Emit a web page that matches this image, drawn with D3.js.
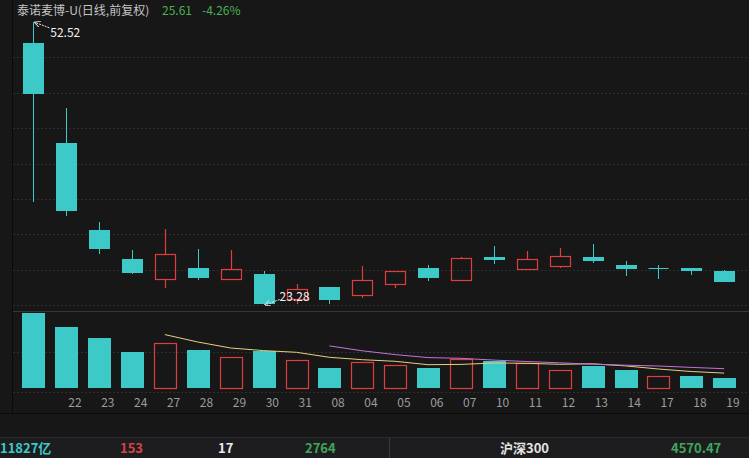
<!DOCTYPE html>
<html><head><meta charset="utf-8">
<script src="https://cdn.jsdelivr.net/npm/d3@7/dist/d3.min.js"></script>
<style>
html,body{margin:0;padding:0;background:#171717;overflow:hidden}
svg{display:block}
</style></head>
<body>
<svg id="c" width="749" height="458"></svg>
<script>
// ---- data ----
const dateLabels = ["", "22","23","24","27","28","29","30","31","08","04","05","06","07","10","11","12","13","14","17","18","19"];
const opens  = [50.31,39.94,30.95,27.95,25.91,27.01,25.91,26.39,23.80,25.04,24.25,25.39,27.01,25.84,28.16,26.91,27.22,28.23,27.33,27.04,27.01,26.70];
const highs  = [52.52,43.57,31.82,28.95,31.13,28.98,28.91,26.70,25.36,25.06,27.22,26.72,27.33,28.23,29.33,28.81,29.09,29.58,27.81,27.33,27.03,26.81];
const lows   = [33.89,32.44,28.50,26.45,25.01,25.80,25.80,23.28,23.35,23.30,23.98,25.01,25.70,25.84,27.43,26.89,27.09,27.56,26.22,25.95,26.29,25.60];
const closes = [45.05,32.92,28.98,26.50,28.47,25.98,26.98,23.30,24.84,23.70,25.84,26.70,25.98,28.12,27.84,27.95,28.33,27.74,26.91,27.04,26.75,25.61];
const volumes = [75,61,50,36,45,38,31,37,27.7,20,26,23,20,29,27,24.7,18,22.3,18.3,11.7,12,10];
const volMA5  = [null,null,null,null,53.4,46,40,37.4,35.7,30.7,28.3,26.7,23.3,23.6,25,24.7,23.7,24.2,22.1,19,16.5,14.9];
const volMA10 = [null,null,null,null,null,null,null,null,null,42.1,37.2,33.4,30.4,29.7,27.9,26.5,25.2,23.8,22.8,22,20.6,19.3];
const titleText = "泰诺麦博-U(日线,前复权)";
const lastPrice = "25.61", lastChange = "-4.26%";
const maxLabel = "52.52", minLabel = "23.28";
const statusTexts = ["11827亿","153","17","2764","沪深300","4570.47"];

// ---- style ----
const BG="#171717", CYAN="#3ec9c9", RED="#e03e3e", GRID="#2e2e2e";
const FONT='"Noto Sans CJK SC","Noto Sans",sans-serif';
const svg = d3.select("#c");
svg.append("rect").attr("width",749).attr("height",458).attr("fill",BG);

const n = opens.length;
const x = d3.scaleBand().domain(d3.range(n)).range([16.85, 740.65]);
const cx = i => x(i) + x.bandwidth()/2;
const yP = d3.scaleLinear().domain([23.28, 52.52]).range([304.5, 21.8]);
const yV = d3.scaleLinear().domain([0, d3.max(volumes)]).range([388, 313]);
const px = v => Math.round(v) + 0.5;

// grid (price pane split in 8)
const gridG = svg.append("g");
for (let k=1;k<=8;k++){
  const gy = Math.round(22 + k*35.4)+0.5;
  gridG.append("line").attr("x1",13).attr("x2",749).attr("y1",gy).attr("y2",gy)
    .attr("stroke",GRID).attr("stroke-dasharray","2,2");
}
[352.5, 392.5].forEach(gy=>{
  gridG.append("line").attr("x1",13).attr("x2",749).attr("y1",gy).attr("y2",gy)
    .attr("stroke",GRID).attr("stroke-dasharray","2,2");
});
// separators
svg.append("line").attr("x1",13).attr("x2",749).attr("y1",311.5).attr("y2",311.5).attr("stroke","#363636");
svg.append("line").attr("x1",0).attr("x2",749).attr("y1",413.5).attr("y2",413.5).attr("stroke","#0b0b0b");
svg.append("line").attr("x1",12.5).attr("x2",12.5).attr("y1",0).attr("y2",413).attr("stroke","#0b0b0b");

// candles
const cg = svg.append("g");
const BW = 20;
for (let i=0;i<n;i++){
  const o=opens[i], c=closes[i], h=highs[i], l=lows[i];
  const up = c>o;
  const col = up?RED:CYAN;
  const xc = Math.round(cx(i))+0.5;
  if (up){
    const top = px(yP(c)), bot = px(yP(o));
    cg.append("line").attr("x1",xc).attr("x2",xc).attr("y1",Math.round(yP(h))).attr("y2",top).attr("stroke",col).attr("stroke-width",1.2);
    cg.append("line").attr("x1",xc).attr("x2",xc).attr("y1",bot).attr("y2",Math.round(yP(l))).attr("stroke",col).attr("stroke-width",1.2);
    cg.append("rect").attr("x",xc-BW/2).attr("y",top).attr("width",BW).attr("height",Math.max(1,bot-top))
      .attr("fill","none").attr("stroke",col).attr("stroke-width",1.2);
  } else {
    const top = Math.round(yP(Math.max(o,c))), bot = Math.round(yP(Math.min(o,c)));
    cg.append("line").attr("x1",xc).attr("x2",xc).attr("y1",Math.round(yP(h))).attr("y2",Math.round(yP(l))).attr("stroke",col);
    if (bot-top < 1.5){
      cg.append("line").attr("x1",xc-BW/2).attr("x2",xc+BW/2).attr("y1",top+0.5).attr("y2",top+0.5).attr("stroke",col);
    } else {
      cg.append("rect").attr("x",xc-0.5-BW/2).attr("y",top).attr("width",BW+1).attr("height",bot-top).attr("fill",col);
    }
  }
}

// volume bars
const vg = svg.append("g");
const VW = 22;
for (let i=0;i<n;i++){
  const up = closes[i]>=opens[i];
  const xc = Math.round(cx(i))+0.5;
  if (up){
    const top = px(yV(volumes[i]));
    vg.append("rect").attr("x",xc-VW/2).attr("y",top).attr("width",VW).attr("height",px(yV(0))-top)
      .attr("fill","none").attr("stroke",RED).attr("stroke-width",1.2);
  } else {
    const top = Math.round(yV(volumes[i]));
    vg.append("rect").attr("x",xc-0.5-VW/2).attr("y",top).attr("width",VW+1).attr("height",Math.round(yV(0))-top)
      .attr("fill",CYAN);
  }
}
// MA lines
const lineGen = d3.line().defined(d=>d.v!=null).x(d=>cx(d.i)).y(d=>yV(d.v));
svg.append("path").datum(volMA5.map((v,i)=>({v,i}))).attr("d",lineGen)
  .attr("fill","none").attr("stroke","#e6cf7c").attr("stroke-width",1);
svg.append("path").datum(volMA10.map((v,i)=>({v,i}))).attr("d",lineGen)
  .attr("fill","none").attr("stroke","#c472d8").attr("stroke-width",1);

// x axis
const ax = svg.append("g").attr("transform","translate(0,398)")
  .call(d3.axisBottom(x).tickSize(0).tickFormat(i=>dateLabels[i]));
ax.select(".domain").remove();
ax.selectAll("text").attr("dx",8.7).attr("dy",0).attr("y",0).attr("dominant-baseline","middle")
  .attr("transform","translate(0,6)")
  .attr("fill","#9c9c9c").attr("font-size",12).attr("font-family",FONT);

// annotations
const defs = svg.append("defs");
defs.append("marker").attr("id","ah").attr("viewBox","0 0 10 10").attr("refX",9).attr("refY",5)
  .attr("markerWidth",6).attr("markerHeight",6).attr("orient","auto")
  .append("path").attr("d","M0,0 L10,5 L0,10").attr("fill","none").attr("stroke","#e8e8e8").attr("stroke-width",1.5);
const iMax = highs.indexOf(d3.max(highs)), iMin = lows.indexOf(d3.min(lows));
svg.append("line").attr("x1",cx(iMax)+16).attr("y1",yP(highs[iMax])+6).attr("x2",cx(iMax)+1.5).attr("y2",yP(highs[iMax])+0.5)
  .attr("stroke","#e8e8e8").attr("stroke-dasharray","2,1").attr("marker-end","url(#ah)");
svg.append("text").attr("x",cx(iMax)+17).attr("y",yP(highs[iMax])+15).text(maxLabel)
  .attr("fill","#f0f0f0").attr("font-size",12).attr("font-family",FONT);
svg.append("line").attr("x1",cx(iMin)+16).attr("y1",yP(lows[iMin])-5).attr("x2",cx(iMin)+1.5).attr("y2",yP(lows[iMin])+0.5)
  .attr("stroke","#e8e8e8").attr("stroke-dasharray","2,1").attr("marker-end","url(#ah)");
svg.append("text").attr("x",cx(iMin)+16).attr("y",yP(lows[iMin])-4).text(minLabel)
  .attr("fill","#f0f0f0").attr("font-size",12).attr("font-family",FONT);

// title
const t = svg.append("text").attr("x",17).attr("y",15).attr("font-size",12).attr("font-family",FONT);
t.append("tspan").text(titleText).attr("fill","#c4c4c4");
t.append("tspan").attr("x",162).text(lastPrice).attr("fill","#4caf55");
t.append("tspan").attr("x",202).text(lastChange).attr("fill","#4caf55");

// status bar
svg.append("rect").attr("x",0).attr("y",437).attr("width",749).attr("height",21).attr("fill","#1d1d1f");
svg.append("line").attr("x1",0).attr("x2",749).attr("y1",437.5).attr("y2",437.5).attr("stroke","#2a2a2c");
svg.append("line").attr("x1",389.5).attr("x2",389.5).attr("y1",438).attr("y2",458).attr("stroke","#3a3a3c");
const sx = [0,120,218,305,500,671], scol=[CYAN,"#d8434a","#ececec","#3fa75a","#e4e4e4","#3fa75a"];
statusTexts.forEach((s,i)=>{
  svg.append("text").attr("x",sx[i]).attr("y",453).text(s).attr("fill",scol[i])
    .attr("font-size",13).attr("font-weight","bold").attr("font-family",FONT);
});
</script>
</body></html>
